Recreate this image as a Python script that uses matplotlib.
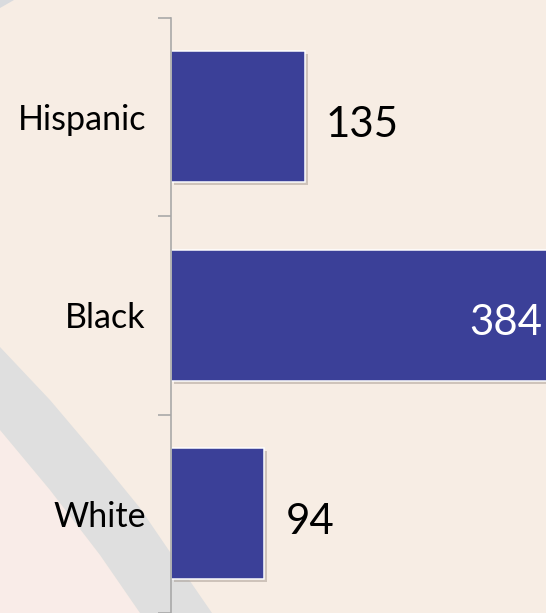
import matplotlib.pyplot as plt
import matplotlib.patheffects as pe
from matplotlib.patches import Polygon
import numpy as np

plt.rcParams['font.family'] = ['Lato', 'DejaVu Sans']

groups = ["Hispanic", "Black", "White"]
counts = [135, 384, 94]

bar_color = "#3b4098"
bg_color = "#f7ede4"

# 72 dpi so that font sizes in points equal pixels
fig = plt.figure(figsize=(546 / 72, 613 / 72), dpi=72, facecolor=bg_color)

# decorative backdrop: pink corner and a grey sweeping band
bg = fig.add_axes([0, 0, 1, 1], zorder=0)
bg.set_xlim(0, 546)
bg.set_ylim(613, 0)
bg.axis("off")
upper = [(0, 347), (50, 400), (100, 459), (140, 508), (170, 552), (212, 613)]
lower = [(0, 430), (50, 490), (100, 555), (140, 613)]
bg.add_patch(Polygon(lower + [(0, 613)], closed=True, color="#f9ece8", lw=0))
bg.add_patch(Polygon(upper + lower[::-1], closed=True, color="#dfdfdf", lw=0))
bg.add_patch(Polygon([(0, 0), (14, 0), (0, 8)], closed=True, color="#d9dbde", lw=0))

ax = fig.add_axes([171 / 546, 0, 375 / 546, 1 - 17.6 / 613], zorder=1)
ax.patch.set_alpha(0)

y = np.arange(len(groups))
bars = ax.barh(y, counts, height=0.66, color=bar_color, edgecolor="white", lw=1.5,
               path_effects=[pe.SimplePatchShadow(offset=(3, -3), shadow_rgbFace="#9c9088", alpha=0.45),
                             pe.Normal()])

xmax = 378
ax.set_xlim(0, xmax)
ax.set_ylim(len(groups) - 0.5, -0.5)

for spine in ["top", "right", "bottom"]:
    ax.spines[spine].set_visible(False)
ax.spines["left"].set_color("#a6a6a6")
ax.spines["left"].set_linewidth(1.6)
ax.set_xticks([])

# tick marks sit between categories, labels at the category centres
ax.set_yticks(np.arange(len(groups) + 1) - 0.5)
ax.set_yticklabels([])
ax.tick_params(axis="y", which="major", length=13, width=1.6, color="#a6a6a6")
ax.set_yticks(y, minor=True)
ax.set_yticklabels(groups, minor=True, fontsize=34, color="black", va="center_baseline")
ax.tick_params(axis="y", which="minor", length=0, pad=25)

# value labels: outside the bar, or inside in white when the bar runs off the edge
for yi, v in zip(y, counts):
    if v > xmax:
        ax.annotate(str(v), xy=(xmax, yi), xytext=(-4, -20), textcoords="offset points",
                    ha="right", va="baseline", fontsize=42, color="white")
    else:
        ax.annotate(str(v), xy=(v, yi), xytext=(21, -20), textcoords="offset points",
                    ha="left", va="baseline", fontsize=42, color="black")

fig.savefig("out.png", dpi=72, facecolor=bg_color)
